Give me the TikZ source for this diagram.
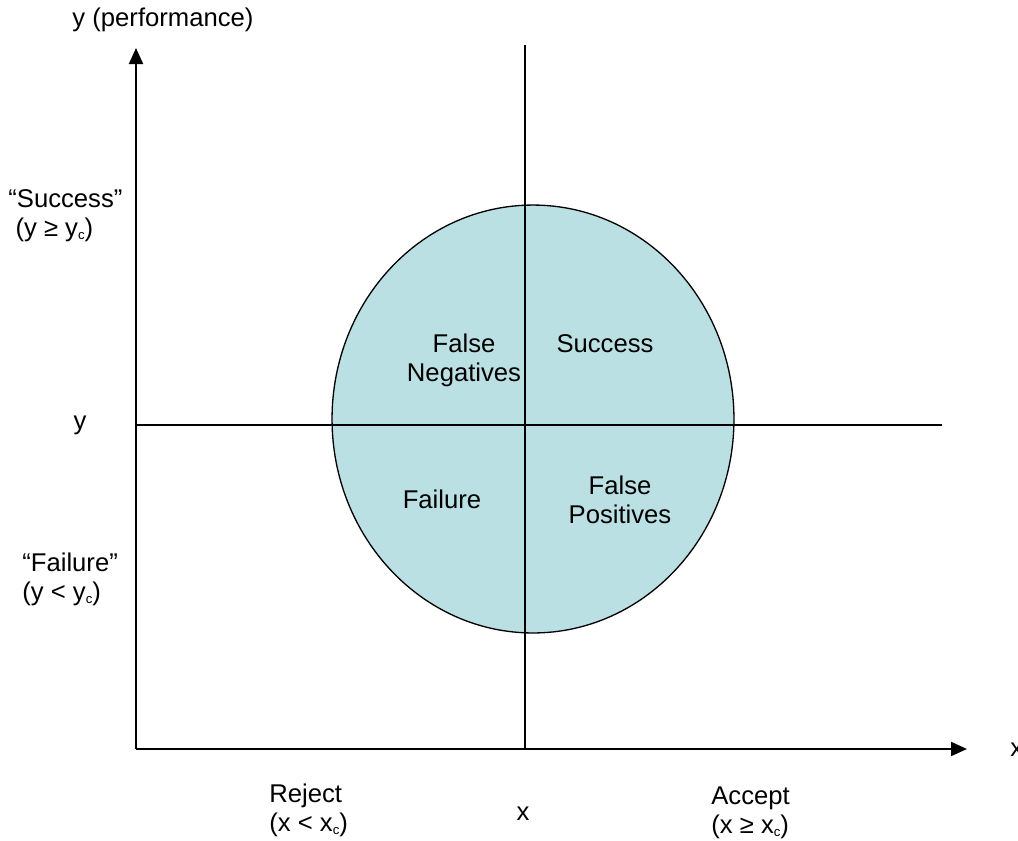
\documentclass[tikz,border=0pt]{standalone}
\usepackage{fontspec}
\setmainfont{Liberation Sans}
\usetikzlibrary{arrows.meta}
\definecolor{quadfill}{RGB}{187,224,227}
\newcommand{\subc}{\raisebox{-0.25ex}{\fontsize{7.5}{8}\selectfont c}}
\tikzset{
        lbl/.style={inner sep=0pt, font=\fontsize{14.6}{16.4}\selectfont},
        axis/.style={line width=1.1pt, -{Triangle[length=0.32cm,width=0.28cm]}},
        cut/.style={line width=0.75pt},
}
\begin{document}
\begin{tikzpicture}[x=0.02cm, y=-0.02cm]
        \useasboundingbox (0,0) rectangle (1018,840);
        \clip (0,0) rectangle (1018,840);
        \filldraw[fill=quadfill, line width=0.75pt] (533,419) ellipse [x radius=4.02cm, y radius=4.28cm];
        \coordinate (o) at (136,749);
        \coordinate (ytop) at (136,48);
        \coordinate (xend) at (967,749);
        \coordinate (vtop) at (525,45);
        \coordinate (vbot) at (525,749);
        \coordinate (hl) at (136,425);
        \coordinate (hr) at (942,425);
        \draw[cut] (vtop) -- (vbot);
        \draw[cut] (hl) -- (hr);
        \draw[axis] (o) -- (ytop);
        \draw[axis] (o) -- (xend);
        \node[lbl, anchor=base] (ylab) at (163,26) {y (performance)};
        \node[lbl, anchor=base west, align=left] (succlab) at (8,236) {“Success”\\\hspace*{0.28em}(y ≥ y\subc)};
        \node[lbl] (ylevel) at (80,425) {y};
        \node[lbl, anchor=base west, align=left] (faillab) at (22,600) {“Failure”\\(y < y\subc)};
        \node[lbl, anchor=base west, align=left] (rejlab) at (269,831) {Reject\\(x < x\subc)};
        \node[lbl, anchor=base] (xlevel) at (523,820) {x};
        \node[lbl, anchor=base west, align=left] (acclab) at (711,833) {Accept\\(x ≥ x\subc)};
        \node[lbl, anchor=west] (xlab) at (1010,750) {x};
        \node[lbl, anchor=base, align=center] (fneg) at (464,381) {False\\Negatives};
        \node[lbl, anchor=base] (succ) at (605,352) {Success};
        \node[lbl, anchor=base] (fail) at (442,508) {Failure};
        \node[lbl, anchor=base, align=center] (fpos) at (620,523) {False\\Positives};
\end{tikzpicture}
\end{document}
